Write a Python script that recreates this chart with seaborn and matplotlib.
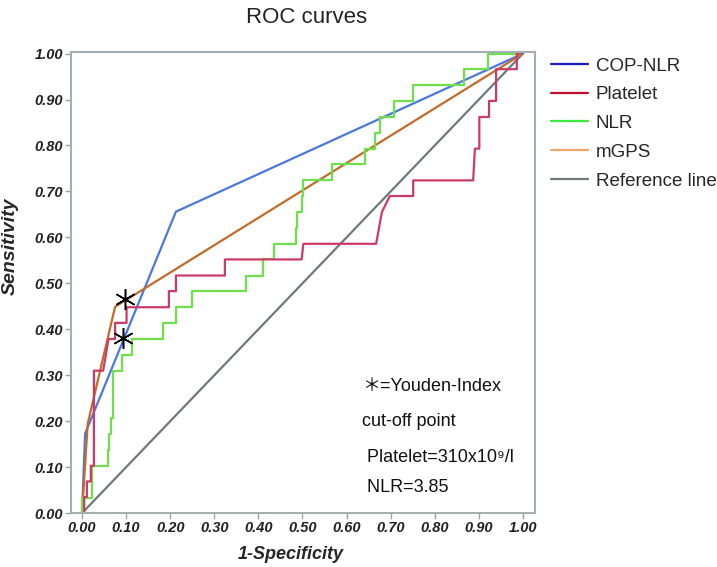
import matplotlib
matplotlib.use("Agg")
import matplotlib.pyplot as plt
import seaborn as sns
import pandas as pd
from matplotlib.lines import Line2D

# ---- data ----
cop_x = [0.0, 0.007, 0.213, 1.0]
cop_y = [0.0, 0.173, 0.656, 1.0]

mgps_x = [0.0, 0.013, 0.075, 1.0]
mgps_y = [0.0, 0.195, 0.449, 1.0]

plt_x = [0.0, 0.005, 0.005, 0.011, 0.011, 0.02, 0.02, 0.027, 0.027, 0.048, 0.06, 0.075,
         0.075, 0.101, 0.101, 0.197, 0.197, 0.213, 0.213, 0.324, 0.324, 0.498, 0.502,
         0.667, 0.68, 0.698, 0.751, 0.751, 0.887, 0.891, 0.901, 0.901, 0.923, 0.923,
         0.939, 0.939, 0.986, 0.986, 1.0]
plt_y = [0.0, 0.0, 0.035, 0.035, 0.069, 0.069, 0.103, 0.103, 0.31, 0.31, 0.379, 0.379,
         0.414, 0.414, 0.448, 0.448, 0.483, 0.483, 0.517, 0.517, 0.552, 0.552, 0.586,
         0.586, 0.655, 0.69, 0.69, 0.724, 0.724, 0.793, 0.793, 0.862, 0.862, 0.897,
         0.897, 0.966, 0.966, 1.0, 1.0]

nlr_x = [0.0, 0.0, 0.022, 0.022, 0.058, 0.058, 0.062, 0.062, 0.065, 0.065, 0.07, 0.07,
         0.091, 0.091, 0.113, 0.113, 0.184, 0.184, 0.214, 0.214, 0.25, 0.25, 0.372,
         0.372, 0.41, 0.41, 0.435, 0.435, 0.485, 0.485, 0.488, 0.488, 0.498, 0.498,
         0.502, 0.502, 0.566, 0.566, 0.642, 0.642, 0.665, 0.665, 0.675, 0.675, 0.707,
         0.707, 0.75, 0.75, 0.867, 0.867, 0.921, 0.921, 1.0]
nlr_y = [0.0, 0.034, 0.034, 0.103, 0.103, 0.138, 0.138, 0.172, 0.172, 0.207, 0.207, 0.31,
         0.31, 0.345, 0.345, 0.379, 0.379, 0.414, 0.414, 0.448, 0.448, 0.483, 0.483,
         0.517, 0.517, 0.552, 0.552, 0.586, 0.586, 0.621, 0.621, 0.655, 0.655, 0.69,
         0.69, 0.724, 0.724, 0.759, 0.759, 0.793, 0.793, 0.828, 0.828, 0.862, 0.862,
         0.897, 0.897, 0.931, 0.931, 0.966, 0.966, 1.0, 1.0]

ref_x = [0.0, 1.0]
ref_y = [0.0, 1.0]

youden_x = [0.098, 0.092]
youden_y = [0.466, 0.381]

series_names = ["COP-NLR", "Platelet", "NLR", "mGPS", "Reference line"]
line_colors = ["#4a78e0", "#cc3b68", "#6ee04c", "#c46a2a", "#6e7a7a"]
legend_colors = ["#1a1ac8", "#c0102e", "#3ee83e", "#f0a868", "#707878"]
xticks = [0.0, 0.1, 0.2, 0.3, 0.4, 0.5, 0.6, 0.7, 0.8, 0.9, 1.0]
ticklabels = ["0.00", "0.10", "0.20", "0.30", "0.40", "0.50", "0.60", "0.70", "0.80", "0.90", "1.00"]
notes = ["\uff0a=Youden-Index", "cut-off point", " Platelet=310x10\u2079/l", " NLR=3.85"]
note_y = [0.275, 0.2, 0.122, 0.055]

sns.set_theme(style="white")
plt.rcParams['font.family'] = ['Liberation Sans', 'Noto Sans CJK SC', 'DejaVu Sans']

fig = plt.figure(figsize=(7.17, 5.67), dpi=100)
ax = fig.add_axes([0.099, 0.095, 0.647, 0.813])

curves = [(cop_x, cop_y), (plt_x, plt_y), (nlr_x, nlr_y), (mgps_x, mgps_y), (ref_x, ref_y)]
order = [4, 0, 3, 2, 1]
for i in order:
    cx, cy = curves[i]
    df = pd.DataFrame({"x": cx, "y": cy})
    sns.lineplot(data=df, x="x", y="y", sort=False, estimator=None, color=line_colors[i],
                 linewidth=1.6, ax=ax, legend=False)

ax.plot(youden_x, youden_y, linestyle="none", marker=(6, 2, 0), markersize=15,
        markeredgecolor="black", markeredgewidth=1.1, color="black", zorder=5)

ax.set_xlim(-0.025, 1.027)
ax.set_ylim(0.0, 1.003)
ax.set_xticks(xticks)
ax.set_xticklabels(ticklabels)
ax.set_yticks(xticks)
ax.set_yticklabels(ticklabels)
for lab in ax.get_xticklabels() + ax.get_yticklabels():
    lab.set_fontweight("bold")
    lab.set_fontstyle("italic")
    lab.set_fontsize(10.5)
    lab.set_color("#222222")
ax.tick_params(axis="both", direction="out", length=4, width=1.0, color="#9aa6a6", pad=1.5)
ax.xaxis.set_ticks_position("bottom")
ax.yaxis.set_ticks_position("left")
for s in ax.spines.values():
    s.set_color("#a4b0b0")
    s.set_linewidth(1.5)

ax.set_xlabel("1-Specificity", fontsize=13, fontweight="bold", fontstyle="italic")
ax.xaxis.set_label_coords(0.474, -0.071)
ax.set_ylabel("Sensitivity", fontsize=14, fontweight="bold", fontstyle="italic")
ax.yaxis.set_label_coords(-0.112, 0.58)
fig.text(0.427, 0.97, "ROC curves", ha="center", va="center", fontsize=16, color="#222222")

for t, yy in zip(notes, note_y):
    ax.text(0.635, yy, t, fontsize=13, ha="left", va="center", color="#111111")

handles = [Line2D([0], [0], color=c, linewidth=1.6) for c in legend_colors]
fig.legend(handles, series_names, loc="upper left", bbox_to_anchor=(0.758, 0.912),
           frameon=False, fontsize=13.5, handlelength=2.0, handletextpad=0.4,
           labelspacing=0.62, borderaxespad=0)

fig.savefig("out.png", dpi=100)
